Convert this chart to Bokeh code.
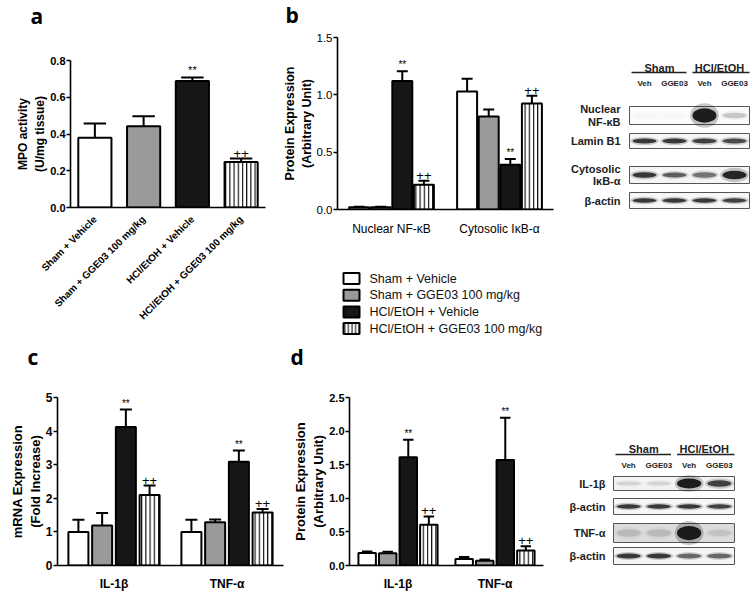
import math
from bokeh.plotting import figure
from bokeh.models import (ColumnDataSource, FactorRange, Range1d, FixedTicker,
                          NumeralTickFormatter)
from bokeh.transform import dodge
from bokeh.layouts import row, column
from bokeh.embed import file_html
from bokeh.resources import INLINE
from bokeh.core.properties import value

FONT = "Liberation Sans"

# ---------------- data ----------------
series_names = ["Sham + Vehicle", "Sham + GGE03 100 mg/kg",
                "HCl/EtOH + Vehicle", "HCl/EtOH + GGE03 100 mg/kg"]
series_fill = ["white", "#9a9a9a", "#161616", "white"]
series_hatch = [" ", " ", " ", "|"]
series_marks = ["", "", "**", "++"]

# panel a : MPO activity
a_groups = series_names
a_mean = [0.380, 0.442, 0.688, 0.248]
a_sem = [0.077, 0.054, 0.020, 0.018]
a_yticks = [0.0, 0.2, 0.4, 0.6, 0.8]

# panel b : protein expression (NF-kB / IkB-a)
b_groups = ["Nuclear NF-κB", "Cytosolic IκB-α"]
b_sham_veh = [0.020, 1.030]
b_sham_veh_sem = [0.004, 0.110]
b_sham_gge = [0.020, 0.810]
b_sham_gge_sem = [0.004, 0.063]
b_hcl_veh = [1.120, 0.390]
b_hcl_veh_sem = [0.085, 0.050]
b_hcl_gge = [0.215, 0.925]
b_hcl_gge_sem = [0.035, 0.068]
b_yticks = [0.0, 0.5, 1.0, 1.5]

# panel c : mRNA expression
c_groups = ["IL-1β", "TNF-α"]
c_sham_veh = [1.00, 1.00]
c_sham_veh_sem = [0.36, 0.36]
c_sham_gge = [1.19, 1.29]
c_sham_gge_sem = [0.37, 0.08]
c_hcl_veh = [4.12, 3.09]
c_hcl_veh_sem = [0.52, 0.33]
c_hcl_gge = [2.10, 1.58]
c_hcl_gge_sem = [0.28, 0.10]
c_yticks = [0, 1, 2, 3, 4, 5]

# panel d : protein expression (IL-1b / TNF-a)
d_groups = ["IL-1β", "TNF-α"]
d_sham_veh = [0.185, 0.097]
d_sham_veh_sem = [0.025, 0.030]
d_sham_gge = [0.182, 0.070]
d_sham_gge_sem = [0.022, 0.020]
d_hcl_veh = [1.61, 1.57]
d_hcl_veh_sem = [0.26, 0.63]
d_hcl_gge = [0.605, 0.225]
d_hcl_gge_sem = [0.125, 0.060]
d_yticks = [0.0, 0.5, 1.0, 1.5, 2.0, 2.5]

# western blots (relative band intensity per lane)
blot_groups = ["Sham", "HCl/EtOH"]
blot_lanes = ["Veh", "GGE03", "Veh", "GGE03"]
blot_b_labels = [["Nuclear", "NF-κB"], ["Lamin B1"], ["Cytosolic", "IκB-α"], ["β-actin"]]
blot_b_nfkb = [0.02, 0.02, 1.00, 0.20]
blot_b_lamin = [0.85, 0.85, 0.80, 0.75]
blot_b_ikba = [0.85, 0.65, 0.55, 0.95]
blot_b_actin = [0.85, 0.85, 0.85, 0.80]
blot_d_labels = [["IL-1β"], ["β-actin"], ["TNF-α"], ["β-actin"]]
blot_d_il1b = [0.12, 0.12, 1.00, 0.80]
blot_d_actin1 = [0.85, 0.85, 0.85, 0.80]
blot_d_tnfa = [0.15, 0.15, 1.00, 0.10]
blot_d_actin2 = [0.85, 0.85, 0.60, 0.60]

panel_letters_top = ["a", "b"]
panel_letters_mid = ["c", "d"]


def pixel_fig(W, H):
    p = figure(width=W, height=H, x_range=Range1d(0, W), y_range=Range1d(H, 0),
               x_axis_type=None, y_axis_type=None, min_border=0, frame_align=False,
               output_backend="svg", toolbar_location=None)
    p.grid.visible = False
    p.outline_line_color = None
    return p


def base_fig(width, height, x_range, y_range, fl, fr, ft, fb):
    p = figure(width=width, height=height, x_range=x_range, y_range=y_range,
               min_border_left=fl, min_border_right=width - fr,
               min_border_top=ft, min_border_bottom=height - fb,
               output_backend="svg", toolbar_location=None, frame_align=False)
    p.xgrid.visible = False
    p.ygrid.visible = False
    p.outline_line_color = None
    p.background_fill_color = None
    p.border_fill_color = None
    return p


def style_axes(p, yticks, fmt, ylabel, ylab_size, tick_size, tick_bold, cat_size, cat_bold):
    p.yaxis.ticker = FixedTicker(ticks=yticks)
    p.yaxis.formatter = NumeralTickFormatter(format=fmt)
    p.yaxis.minor_tick_line_color = None
    p.yaxis.major_tick_in = 0
    p.yaxis.major_tick_out = 4
    p.yaxis.major_tick_line_width = 1.5
    p.yaxis.major_label_standoff = 1
    p.axis.axis_line_width = 1.6
    p.axis.axis_line_color = "black"
    p.yaxis.major_label_text_font = FONT
    p.yaxis.major_label_text_font_size = tick_size
    p.yaxis.major_label_text_font_style = "bold" if tick_bold else "normal"
    p.yaxis.major_label_text_color = "black"
    p.yaxis.axis_label = ylabel
    p.yaxis.axis_label_text_font = FONT
    p.yaxis.axis_label_text_font_size = ylab_size
    p.yaxis.axis_label_text_font_style = "bold"
    p.yaxis.axis_label_text_color = "black"
    p.yaxis.axis_label_standoff = 0
    p.xaxis.major_tick_line_color = None
    p.xaxis.minor_tick_line_color = None
    p.xaxis.major_label_text_font = FONT
    p.xaxis.major_label_text_font_size = cat_size
    p.xaxis.major_label_text_font_style = "bold" if cat_bold else "normal"
    p.xaxis.major_label_text_color = "black"


def grouped(p, groups, means, sems, bar_w, stride, cap_frac):
    offs = [(-1.5 + i) * stride for i in range(4)]
    for i in range(4):
        tops = [m + s for m, s in zip(means[i], sems[i])]
        src = ColumnDataSource(dict(g=groups, m=means[i], top=tops,
                                    mk=[series_marks[i]] * len(groups)))
        xo = dodge("g", offs[i], range=p.x_range)
        cw = bar_w * cap_frac / 2
        p.segment(x0=xo, x1=xo, y0="m", y1="top", source=src, line_color="black", line_width=2)
        p.segment(x0=dodge("g", offs[i] - cw, range=p.x_range),
                  x1=dodge("g", offs[i] + cw, range=p.x_range),
                  y0="top", y1="top", source=src, line_color="black", line_width=2)
        kw = {}
        if series_hatch[i] != " ":
            kw = dict(hatch_pattern=series_hatch[i], hatch_color="black",
                      hatch_scale=4.2, hatch_weight=1.1)
        p.vbar(x=xo, top="m", bottom=0, width=bar_w, source=src,
               fill_color=series_fill[i], line_color="black", line_width=2, **kw)
        big = series_marks[i] == "++"
        p.text(x=xo, y="top", text="mk", source=src, text_align="center",
               text_baseline="bottom", y_offset=-1,
               text_font=value(FONT), text_font_size="13px" if big else "10px",
               text_color="black")


# ---------------- letter strips ----------------
top_strip = pixel_fig(756, 30)
top_strip.text(x=[30, 285], y=[15, 14.5], text=panel_letters_top, text_align="left",
               text_baseline="middle", text_font=value("Open Sans"),
               text_font_size="21px", text_font_style="bold", text_color="black")
mid_strip = pixel_fig(756, 32)
mid_strip.text(x=[27, 290], y=[17.5, 17], text=panel_letters_mid, text_align="left",
               text_baseline="middle", text_font=value("Open Sans"),
               text_font_size="21px", text_font_style="bold", text_color="black")

# ---------------- panel a ----------------
AW, AH = 270, 309
pa = base_fig(AW, AH, FactorRange(*a_groups), Range1d(0, 0.8), 70, 265, 30, 177)
a_tops = [m + s for m, s in zip(a_mean, a_sem)]
a_src = ColumnDataSource(dict(g=a_groups, m=a_mean, top=a_tops, fill=series_fill,
                              hatch=series_hatch, mk=series_marks,
                              fs=["11px" if m == "**" else "13px" for m in series_marks]))
pa.segment(x0="g", x1="g", y0="m", y1="top", source=a_src, line_color="black", line_width=2)
pa.segment(x0=dodge("g", -0.23, range=pa.x_range), x1=dodge("g", 0.23, range=pa.x_range),
           y0="top", y1="top", source=a_src, line_color="black", line_width=2)
pa.vbar(x="g", top="m", bottom=0, width=0.68, source=a_src, fill_color="fill",
        line_color="black", line_width=2, hatch_pattern="hatch", hatch_color="black",
        hatch_scale=4.2, hatch_weight=1.1)
pa.text(x="g", y="top", text="mk", source=a_src, text_align="center",
        text_baseline="bottom", y_offset=-1, text_font=value(FONT),
        text_font_size="fs", text_color="black")
style_axes(pa, a_yticks, "0.0", "MPO activity\n(U/mg tissue)", "12px", "11px", True, "10px", True)
pa.xaxis.major_label_orientation = math.pi / 4
pa.xaxis.major_label_standoff = 4

# ---------------- panel b ----------------
BW, BH = 285, 208
pb = base_fig(BW, BH, FactorRange(*b_groups), Range1d(0, 1.5), 67, 283, 7, 179)
grouped(pb, b_groups, [b_sham_veh, b_sham_gge, b_hcl_veh, b_hcl_gge],
        [b_sham_veh_sem, b_sham_gge_sem, b_hcl_veh_sem, b_hcl_gge_sem], 0.185, 0.2, 0.55)
style_axes(pb, b_yticks, "0.0", "Protein Expression\n(Arbitrary Unit)", "12.5px", "11.5px", False, "12px", False)
pb.xaxis.major_label_standoff = 6

# ---------------- legend ----------------
LW, LH = 285, 101
lg = pixel_fig(LW, LH)
key_x, key_w, key_h, row0, row_step = 73, 16, 11, 40, 16.7
key_y = [row0 + k * row_step for k in range(4)]
for i in range(4):
    kw = {}
    if series_hatch[i] != " ":
        kw = dict(hatch_pattern=series_hatch[i], hatch_color="black", hatch_scale=3.6, hatch_weight=1.0)
    lg.quad(left=[key_x], right=[key_x + key_w], top=[key_y[i] - key_h / 2],
            bottom=[key_y[i] + key_h / 2], fill_color=series_fill[i],
            line_color="black", line_width=2, **kw)
lg.text(x=[key_x + key_w + 10] * 4, y=key_y, text=series_names, text_align="left",
        text_baseline="middle", text_font=value(FONT), text_font_size="12.5px",
        text_color="#111")

# ---------------- blots ----------------
def blot(W, H, box_l, box_r, header_y, line_y, lane_y, label_x, rows):
    p = pixel_fig(W, H)
    lw = (box_r - box_l) / 4
    lane_x = [box_l + lw * (k + 0.5) for k in range(4)]
    p.text(x=[box_l + lw, box_l + 3 * lw], y=[header_y] * 2, text=blot_groups,
           text_align="center", text_baseline="middle", text_font=value(FONT),
           text_font_size="11px", text_font_style="bold", text_color="#222")
    p.segment(x0=[box_l + 2, box_l + 2 * lw + 3], x1=[box_l + 2 * lw - 3, box_r],
              y0=[line_y] * 2, y1=[line_y] * 2, line_color="#222", line_width=1.5)
    p.text(x=lane_x, y=[lane_y] * 4, text=blot_lanes, text_align="center",
           text_baseline="middle", text_font=value(FONT), text_font_size="8px",
           text_font_style="bold", text_color="#222")
    for (top, bottom, fill, inten, thick, labels) in rows:
        h = bottom - top
        cy = (top + bottom) / 2
        p.quad(left=[box_l], right=[box_r], top=[top], bottom=[bottom],
               fill_color=fill, line_color="#555", line_width=1)
        p.ellipse(x=lane_x, y=[cy] * 4, width=[lw * 0.95] * 4,
                  height=[h * t * 1.7 for t in thick], fill_color="black",
                  fill_alpha=[0.22 * v for v in inten], line_color=None)
        p.ellipse(x=lane_x, y=[cy] * 4, width=[lw * 0.8] * 4,
                  height=[h * t for t in thick], fill_color="black",
                  fill_alpha=[0.85 * v for v in inten], line_color=None)
        n = len(labels)
        ys = [cy + (k - (n - 1) / 2) * 12.5 for k in range(n)]
        p.text(x=[label_x] * n, y=ys, text=labels, text_align="right",
               text_baseline="middle", text_font=value(FONT), text_font_size="11px",
               text_font_style="bold", text_color="#222")
    return p


thin = [0.28] * 4
pbb = blot(200, 309, 74, 194, 37, 42, 53, 65, [
    (76, 94, "#fbfbfb", blot_b_nfkb, [0.3, 0.3, 0.8, 0.3], blot_b_labels[0]),
    (103, 118, "#f7f7f7", blot_b_lamin, [0.32] * 4, blot_b_labels[1]),
    (136, 153, "#f5f5f5", blot_b_ikba, [0.32, 0.28, 0.32, 0.5], blot_b_labels[2]),
    (162, 178, "#f7f7f7", blot_b_actin, thin, blot_b_labels[3]),
])
pdb = blot(195, 222, 53, 174, 77, 83, 94, 45, [
    (105, 119, "#f3f3f3", blot_d_il1b, [0.3, 0.3, 0.7, 0.45], blot_d_labels[0]),
    (127, 143, "#f7f7f7", blot_d_actin1, thin, blot_d_labels[1]),
    (152, 171, "#dcdcdc", blot_d_tnfa, [0.4, 0.4, 0.75, 0.35], blot_d_labels[2]),
    (176, 193, "#f5f5f5", blot_d_actin2, thin, blot_d_labels[3]),
])

# ---------------- panel c ----------------
CW, CH = 290, 222
pc = base_fig(CW, CH, FactorRange(*c_groups), Range1d(0, 5), 57, 283, 26, 197)
grouped(pc, c_groups, [c_sham_veh, c_sham_gge, c_hcl_veh, c_hcl_gge],
        [c_sham_veh_sem, c_sham_gge_sem, c_hcl_veh_sem, c_hcl_gge_sem], 0.177, 0.21, 0.6)
style_axes(pc, c_yticks, "0", "mRNA Expression\n(Fold Increase)", "13px", "12px", True, "12px", True)
pc.xaxis.major_label_standoff = 5

# ---------------- panel d ----------------
DW, DH = 270, 222
pd_ = base_fig(DW, DH, FactorRange(*d_groups), Range1d(0, 2.5), 55, 253, 26, 197)
grouped(pd_, d_groups, [d_sham_veh, d_sham_gge, d_hcl_veh, d_hcl_gge],
        [d_sham_veh_sem, d_sham_gge_sem, d_hcl_veh_sem, d_hcl_gge_sem], 0.18, 0.212, 0.6)
style_axes(pd_, d_yticks, "0.0", "Protein Expression\n(Arbitrary Unit)", "13px", "11px", True, "12px", True)
pd_.xaxis.major_label_standoff = 5

layout = column(top_strip, row(pa, column(pb, lg), pbb), mid_strip, row(pc, pd_, pdb))
open("out.html", "w").write(file_html(layout, INLINE))
